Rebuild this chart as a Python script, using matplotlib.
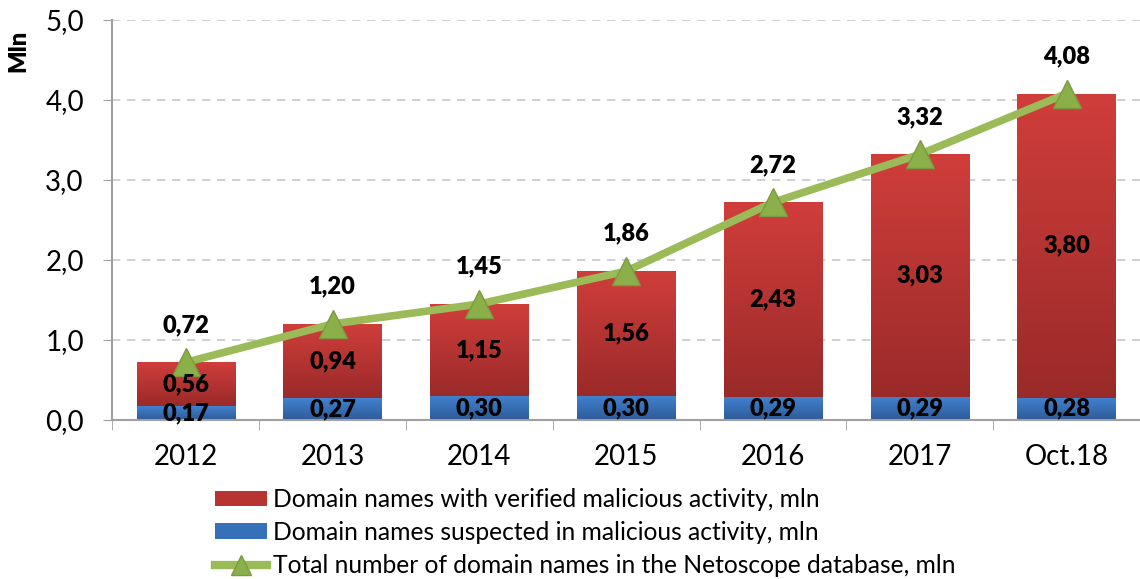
import numpy as np
import matplotlib
matplotlib.use("Agg")
import matplotlib.pyplot as plt
from matplotlib.patches import Patch
from matplotlib.lines import Line2D
from matplotlib.colors import LinearSegmentedColormap

# data
years = ['2012', '2013', '2014', '2015', '2016', '2017', 'Oct.18']
suspected = [0.17, 0.27, 0.30, 0.30, 0.29, 0.29, 0.28]
verified = [0.56, 0.94, 1.15, 1.56, 2.43, 3.03, 3.80]
total = [0.72, 1.20, 1.45, 1.86, 2.72, 3.32, 4.08]
yticks = [0.0, 1.0, 2.0, 3.0, 4.0, 5.0]

plt.rcParams['font.family'] = ['Lato', 'DejaVu Sans']

red_cmap = LinearSegmentedColormap.from_list('red', ['#9a2a29', '#d03e3b'])
blue_cmap = LinearSegmentedColormap.from_list('blue', ['#2d5b98', '#4282d0'])

fig = plt.figure(figsize=(11.4, 5.79), dpi=100)
ax = fig.add_axes([0.0985, 0.2746, 0.9015, 0.691])

x = np.arange(len(years))
w = 0.67
blue_bars = ax.bar(x, suspected, w, color='#3a74c0', zorder=2)
red_bars = ax.bar(x, [t - s for t, s in zip(total, suspected)], w, bottom=suspected,
                  color='#c0392f', zorder=2)

# vertical gradient inside each bar
grad = np.linspace(0, 1, 256).reshape(-1, 1)
for bars, cmap in ((red_bars, red_cmap), (blue_bars, blue_cmap)):
    for b in bars:
        x0, y0 = b.get_x(), b.get_y()
        im = ax.imshow(grad, cmap=cmap, origin='lower', aspect='auto',
                       extent=[x0, x0 + b.get_width(), y0, y0 + b.get_height()], zorder=2.5)
        im.set_clip_path(b)

ax.plot(x, total, color='#9bbb59', lw=5.5, marker='^', markersize=20,
        markerfacecolor='#8bb04a', markeredgecolor='#7a9c3e', markeredgewidth=1, zorder=4)

def fmt(v):
    return f'{v:.2f}'.replace('.', ',')

for i in range(len(years)):
    ax.annotate(fmt(total[i]), (x[i], total[i]), xytext=(0, 27),
                textcoords='offset points', ha='center', va='center',
                fontsize=17, fontweight='heavy', zorder=5)
    ax.text(x[i], suspected[i] + (total[i] - suspected[i]) / 2, fmt(verified[i]),
            ha='center', va='center', fontsize=17, fontweight='heavy', zorder=5)
    ax.text(x[i], suspected[i] / 2, fmt(suspected[i]),
            ha='center', va='center', fontsize=17, fontweight='heavy', zorder=5)

ax.set_xlim(-0.5, len(years) - 0.5)
ax.set_ylim(0, 5)
ax.set_yticks(yticks)
ax.set_yticklabels([f'{v:.1f}'.replace('.', ',') for v in yticks], fontsize=20)
ax.set_xticks(x)
ax.set_xticklabels(years, fontsize=20)
ax.set_xticks(np.arange(-0.5, len(years), 1), minor=True)
ax.tick_params(axis='x', which='major', length=0, pad=17)
ax.tick_params(axis='x', which='minor', length=7, color='#a0a0a0', direction='out')
ax.tick_params(axis='y', length=6.5, color='#a0a0a0', direction='out', pad=14)
ax.yaxis.grid(True, linestyle=(0, (5, 4)), color='#c8c8c8', lw=1.2)
ax.set_axisbelow(True)
for s in ('top', 'right'):
    ax.spines[s].set_visible(False)
ax.spines['left'].set_color('#a0a0a0')
ax.spines['bottom'].set_color('#a0a0a0')
ax.spines['left'].set_linewidth(1.5)
ax.spines['bottom'].set_linewidth(1.5)

fig.text(0.0158, 0.912, 'Mln', rotation=90, fontsize=17, fontweight='heavy', ha='center', va='center')

handles = [Patch(facecolor='#b83431'),
           Patch(facecolor='#3670b8'),
           Line2D([], [], color='#9bbb59', lw=6, marker='^', markersize=15,
                  markerfacecolor='#8bb04a', markeredgecolor='#7a9c3e')]
labels = ['Domain names with verified malicious activity, mln',
          'Domain names suspected in malicious activity, mln',
          'Total number of domain names in the Netoscope database, mln']
fig.legend(handles, labels, loc='upper left', bbox_to_anchor=(0.1886, 0.157), frameon=False,
           fontsize=17.7, handlelength=2.1, handleheight=0.6, handletextpad=0.25,
           labelspacing=0.4, borderpad=0, borderaxespad=0)

fig.savefig('out.png', dpi=100)
